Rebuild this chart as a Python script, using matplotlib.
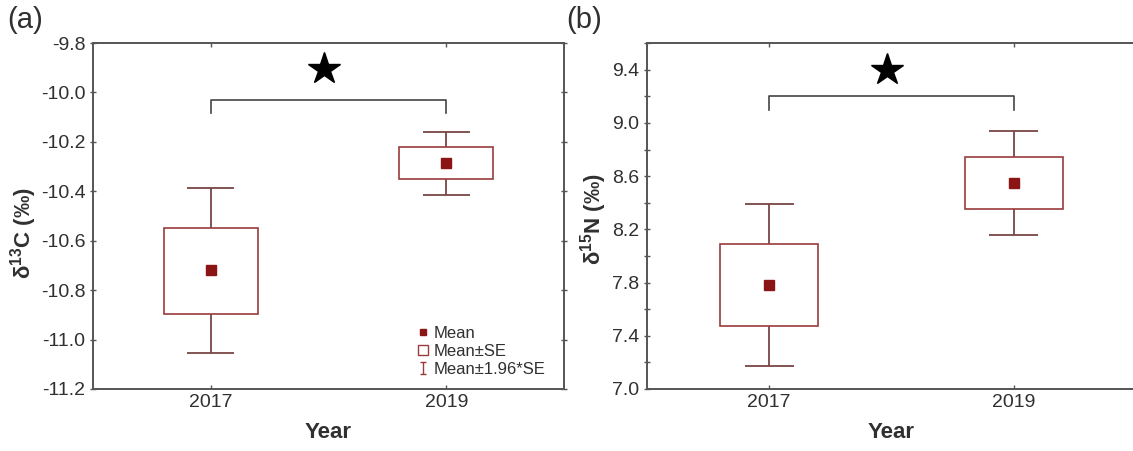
import numpy as np
import matplotlib.pyplot as plt
from matplotlib.lines import Line2D
from matplotlib.path import Path
from matplotlib.ticker import MultipleLocator

plt.rcParams['font.family'] = ['Liberation Sans', 'DejaVu Sans']
plt.rcParams['mathtext.fontset'] = 'custom'
plt.rcParams['mathtext.rm'] = 'Liberation Sans'
plt.rcParams['mathtext.bf'] = 'Liberation Sans:bold'

years = ['2017', '2019']

# delta 13C (a)
c_mean = [-10.72, -10.285]
c_se_lo = [-10.895, -10.35]
c_se_hi = [-10.548, -10.222]
c_ci_lo = [-11.055, -10.415]
c_ci_hi = [-10.385, -10.16]
c_ticks = [-11.2, -11.0, -10.8, -10.6, -10.4, -10.2, -10.0, -9.8]

# delta 15N (b)
n_mean = [7.78, 8.545]
n_se_lo = [7.47, 8.35]
n_se_hi = [8.09, 8.74]
n_ci_lo = [7.175, 8.16]
n_ci_hi = [8.39, 8.94]
n_ticks = [7.0, 7.4, 7.8, 8.2, 8.6, 9.0, 9.4]

box_col = '#9a3c3c'
wh_col = '#7a4545'
mean_col = '#8b1414'
spine_col = '#555555'
txt_col = '#303030'

fig = plt.figure(figsize=(11.33, 4.51), dpi=100)
ax1 = fig.add_axes([0.0821, 0.1375, 0.4157, 0.767])
ax2 = fig.add_axes([0.571, 0.1375, 0.4316, 0.767])


def draw(ax, mean, se_lo, se_hi, ci_lo, ci_hi):
    x = np.arange(len(mean))
    ax.vlines(x, ci_lo, ci_hi, color=wh_col, lw=1.3, zorder=1)
    ax.hlines(ci_lo, x - 0.1, x + 0.1, color=wh_col, lw=1.3, zorder=1)
    ax.hlines(ci_hi, x - 0.1, x + 0.1, color=wh_col, lw=1.3, zorder=1)
    h = np.array(se_hi) - np.array(se_lo)
    ax.bar(x, h, bottom=se_lo, width=0.4, facecolor='white',
           edgecolor=box_col, lw=1.2, zorder=2)
    ax.plot(x, mean, 's', color=mean_col, ms=6.5, zorder=3)
    ax.set_xlim(-0.5, 1.5)
    ax.set_xticks(x)
    ax.set_xticklabels(years)
    for s in ax.spines.values():
        s.set_color(spine_col)
        s.set_linewidth(1.4)
    ax.tick_params(axis='both', which='both', labelsize=14, color=spine_col,
                   labelcolor=txt_col, direction='inout', length=4, width=1)
    ax.tick_params(axis='x', top=True, direction='in', length=3)
    ax.tick_params(axis='y', which='both', right=True)
    ax.set_xlabel('Year', fontsize=16, fontweight='bold', labelpad=8,
                  color=txt_col)


def bracket(ax, y, leg, ystar):
    ax.plot([0, 0, 1, 1], [y - leg, y, y, y - leg], color='#444444', lw=1.2)
    ax.plot([0.48], [ystar], marker='*', color='black', ms=24, mec='black')


draw(ax1, c_mean, c_se_lo, c_se_hi, c_ci_lo, c_ci_hi)
ax1.set_ylim(-11.2, -9.8)
ax1.set_yticks(c_ticks)
ax1.yaxis.set_major_formatter(lambda v, p: f'{v:.1f}')
ax1.set_ylabel(r'$\mathbf{\delta^{13}C}$ (‰)', fontsize=16,
               fontweight='bold', color=txt_col)
ax1.yaxis.set_label_coords(-0.114, 0.45)
bracket(ax1, -10.03, 0.055, -9.905)

draw(ax2, n_mean, n_se_lo, n_se_hi, n_ci_lo, n_ci_hi)
ax2.set_ylim(7.0, 9.6)
ax2.set_yticks(n_ticks)
ax2.yaxis.set_minor_locator(MultipleLocator(0.2))
ax2.yaxis.set_major_formatter(lambda v, p: f'{v:.1f}')
ax2.set_ylabel(r'$\mathbf{\delta^{15}N}$ (‰)', fontsize=16,
               fontweight='bold', color=txt_col)
ax2.yaxis.set_label_coords(-0.077, 0.49)
bracket(ax2, 9.2, 0.1, 9.4)

ibar = Path([(-0.6, -1), (0.6, -1), (0, -1), (0, 1), (-0.6, 1), (0.6, 1)],
            [Path.MOVETO, Path.LINETO, Path.MOVETO, Path.LINETO,
             Path.MOVETO, Path.LINETO])
handles = [
    Line2D([], [], ls='none', marker='s', color=mean_col, ms=5),
    Line2D([], [], ls='none', marker='s', mfc='white', mec=box_col, ms=7, mew=1),
    Line2D([], [], ls='none', marker=ibar, mfc='none', mec=box_col, ms=8, mew=1),
]
ax1.legend(handles, ['Mean', 'Mean±SE', 'Mean±1.96*SE'], loc='lower right',
           bbox_to_anchor=(0.985, 0.0), frameon=False, fontsize=12,
           handlelength=0.6, handletextpad=0.3, labelspacing=0.2,
           borderpad=0.2, labelcolor=txt_col)

fig.text(0.006, 0.955, '(a)', fontsize=21, va='center', color=txt_col)
fig.text(0.500, 0.955, '(b)', fontsize=21, va='center', color=txt_col)

fig.savefig('out.png', dpi=100)
